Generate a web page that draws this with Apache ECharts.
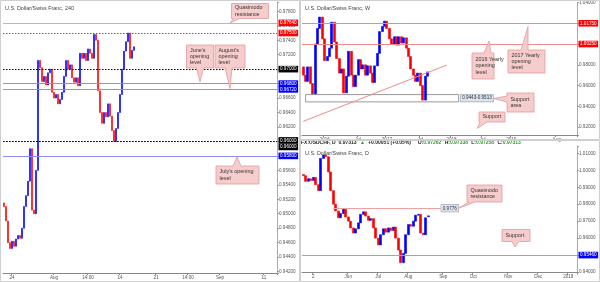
<!DOCTYPE html>
<html><head><meta charset="utf-8">
<script src="https://cdn.jsdelivr.net/npm/echarts@6/dist/echarts.min.js"></script>
<style>html,body{margin:0;padding:0;background:#fff}#c{width:600px;height:282px}</style>
</head><body><div id="c"></div>
<script>
// ---------- 4H panel (U.S. Dollar/Swiss Franc, 240) ----------
const h4Open  = [.9515,.9510,.9490,.9460,.9452,.9462,.9455,.9465,.9470,.9466,.9480,.9510,.9525,.9545,.9590,.9505,.9500,.9560,.9712,.9702,.9683,.9690,.9678,.9695,.9700,.9668,.9660,.9665,.9652,.9658,.9668,.9690,.9712,.9700,.9706,.9688,.9682,.9688,.9677,.9722,.9715,.9722,.9712,.9728,.9722,.9715,.9748,.9740,.9670,.9640,.9625,.9640,.9634,.9652,.9635,.9615,.9600,.9618,.9640,.9665,.9700,.9725,.9738,.9750,.9715,.9726];
const h4Close = [.9510,.9490,.9460,.9452,.9462,.9455,.9465,.9470,.9466,.9480,.9510,.9525,.9545,.9590,.9505,.9500,.9560,.9712,.9702,.9683,.9690,.9678,.9695,.9700,.9668,.9660,.9665,.9652,.9658,.9668,.9690,.9712,.9700,.9706,.9688,.9682,.9688,.9677,.9722,.9715,.9722,.9712,.9728,.9722,.9715,.9748,.9740,.9670,.9640,.9625,.9640,.9634,.9652,.9635,.9615,.9600,.9618,.9640,.9665,.9700,.9725,.9738,.9750,.9715,.9726,.9731];
const h4Low   = [.9505,.9485,.9452,.9437,.9440,.9445,.9448,.9455,.9458,.9460,.9472,.9505,.9520,.9540,.9498,.9490,.9495,.9555,.9671,.9670,.9660,.9665,.9670,.9685,.9660,.9648,.9650,.9634,.9635,.9650,.9660,.9685,.9690,.9685,.9675,.9670,.9672,.9670,.9674,.9705,.9708,.9705,.9708,.9712,.9705,.9710,.9720,.9665,.9619,.9618,.9615,.9620,.9625,.9625,.9605,.9582,.9595,.9610,.9632,.9660,.9690,.9718,.9730,.9703,.9708,.9722];
const h4High  = [.9522,.9515,.9495,.9468,.9470,.9475,.9478,.9490,.9482,.9488,.9515,.9530,.9550,.9600,.9595,.9515,.9565,.9720,.9722,.9708,.9700,.9695,.9705,.9712,.9705,.9675,.9678,.9670,.9665,.9675,.9698,.9718,.9716,.9712,.9710,.9695,.9698,.9692,.9764,.9735,.9732,.9728,.9738,.9735,.9730,.9770,.9755,.9745,.9675,.9652,.9660,.9662,.9671,.9660,.9640,.9622,.9625,.9648,.9672,.9708,.9732,.9748,.9758,.9755,.9732,.9734];
const h4TickLabels = ['24','Aug','14:00','14','21','14:00','Sep','11'];
const h4TickIndex  = [4,25,42,58,76,92,108,130];
const h4Slots = 137;
const h4Quasimodo = 0.9764, h4RedDotted = 0.9750, h4BlackDotted = 0.9700;
const h4JuneOpen = 0.9680, h4AugOpen = 0.9672, h4Round96 = 0.9600, h4JulyOpen = 0.9580;

// ---------- Weekly panel ----------
const wkOpen  = [.9780,.9700,.9640,.9780,.9620,.9520,1.0000,1.0150,1.0260,1.0050,.9840,.9880,.9960,1.0210,1.0020,.9860,.9720,.9760,.9530,.9690,.9930,.9700,.9590,.9700,.9850,.9760,.9800,.9700,.9790,.9720,.9630,.9790,.9910,1.0120,1.0170,1.0220,1.0150,1.0050,1.0000,1.0070,.9990,1.0070,1.0010,1.0060,.9960,.9880,.9760,.9700,.9640,.9720,.9600,.9460,.9690];
const wkClose = [.9700,.9640,.9780,.9620,.9520,1.0000,1.0150,1.0260,1.0050,.9840,.9880,.9960,1.0210,1.0020,.9860,.9720,.9760,.9530,.9690,.9930,.9700,.9590,.9700,.9850,.9760,.9800,.9700,.9790,.9720,.9630,.9790,.9910,1.0120,1.0170,1.0220,1.0150,1.0050,1.0000,1.0070,.9990,1.0070,1.0010,1.0060,.9960,.9880,.9760,.9700,.9640,.9720,.9600,.9460,.9690,.97313];
const wkLow   = [.9640,.9600,.9600,.9580,.9500,.9510,.9980,1.0130,1.0030,.9810,.9820,.9850,.9950,1.0000,.9820,.9690,.9660,.9500,.9510,.9670,.9670,.9560,.9570,.9680,.9730,.9710,.9670,.9680,.9690,.9600,.9610,.9770,.9880,1.0080,1.0140,1.0120,1.0020,.9970,.9960,.9950,.9970,.9980,.9990,.9930,.9850,.9720,.9680,.9620,.9620,.9570,.9438,.9443,.9610];
const wkHigh  = [.9810,.9720,.9800,.9800,.9660,1.0030,1.0180,1.0300,1.0280,1.0070,.9920,.9990,1.0240,1.0230,1.0040,.9880,.9790,.9780,.9720,.9960,.9950,.9720,.9740,.9880,.9870,.9830,.9820,.9810,.9820,.9740,.9820,.9950,1.0150,1.0200,1.0320,1.0260,1.0180,1.0080,1.0100,1.0110,1.0100,1.0100,1.0090,1.0080,.9990,.9900,.9790,.9740,.9750,.9740,.9620,.9770,.9770];
const wkTickLabels = ['2016','Jul','2017','Jul','2018','Jul','2019','Aug'];
const wkTickIndex  = [9,23,35,49,62,75,87,106];
const wkSlots = 115;
const wkOpen2017 = 1.0175, wkOpen2016 = 1.0025;
const wkSupportArea = [0.9443, 0.9513];
const wkSupportAreaSpan = [1, 65];
const wkTrend = [[0, 0.9255], [60, 0.9797]];

// ---------- Daily panel ----------
const dOpen  = [.9975,.9968,.9935,.9950,.9940,.9958,.9915,.9880,1.0070,1.0090,1.0080,.9990,.9880,.9800,.9760,.9720,.9745,.9770,.9725,.9700,.9660,.9630,.9655,.9690,.9740,.9755,.9730,.9705,.9715,.9660,.9600,.9560,.9620,.9655,.9635,.9660,.9645,.9665,.9600,.9530,.9455,.9510,.9620,.9680,.9670,.9700,.9735,.9740,.9630,.9620,.97262];
const dClose = [.9968,.9935,.9950,.9940,.9958,.9915,.9880,1.0070,1.0090,1.0080,.9990,.9880,.9800,.9760,.9720,.9745,.9770,.9725,.9700,.9660,.9630,.9655,.9690,.9740,.9755,.9730,.9705,.9715,.9660,.9600,.9560,.9620,.9655,.9635,.9660,.9645,.9665,.9600,.9530,.9455,.9510,.9620,.9680,.9670,.9700,.9735,.9740,.9630,.9620,.9720,.97313];
const dLow   = [.9955,.9920,.9925,.9930,.9932,.9905,.9870,.9875,1.0055,1.0065,.9980,.9870,.9790,.9740,.9705,.9710,.9730,.9715,.9690,.9650,.9620,.9620,.9645,.9680,.9725,.9720,.9690,.9695,.9650,.9590,.9552,.9555,.9610,.9615,.9625,.9635,.9640,.9590,.9520,.9440,.9445,.9505,.9610,.9655,.9660,.9690,.9720,.9615,.9590,.9612,.97258];
const dHigh  = [.9990,.9978,.9960,.9965,.9968,.9962,.9925,1.0080,1.0102,1.0100,1.0090,1.0000,.9890,.9810,.9775,.9760,.9785,.9778,.9735,.9710,.9670,.9665,.9700,.9750,.9775,.9770,.9740,.9725,.9720,.9670,.9612,.9630,.9665,.9680,.9690,.9675,.9690,.9672,.9605,.9535,.9520,.9630,.9690,.9700,.9715,.9745,.9775,.9750,.9640,.9730,.97338];
const dTickLabels = ['2','Jun','Jul','Aug','Sep','Oct','Nov','Dec','2018'];
const dTickIndex  = [4,18,30,42,56,68,82,94,106];
const dSlots = 110;
const dQuasimodo = 0.9776, dQuasimodoSpan = [12, 55];
const dSupport = 0.9546;
const lastPrice = 0.97313;

// ---------- helpers ----------
const FONT = 'Liberation Sans';
const BLUE = '#0000ff', RED = '#ff0000', WICK = '#c4c4c4';

function cats(n){ const a=[]; for(let i=0;i<n;i++) a.push('c'+i); return a; }
function tickMap(idx, labels){ const m={}; idx.forEach((k,i)=>m[k]=labels[i]); return m; }

function xAxisFor(grid, n, idx, labels){
  const m = tickMap(idx, labels);
  return {
    gridIndex: grid, type:'category', data: cats(n), boundaryGap:true,
    axisLine:{show:true, lineStyle:{color:'#888', width:1}},
    axisTick:{show:true, length:2, interval:(i)=>m[i]!==undefined, lineStyle:{color:'#888'}},
    axisLabel:{interval:(i)=>m[i]!==undefined, formatter:(v,i)=>m[i]||'', fontSize:4.6, color:'#555', margin:2, fontFamily:FONT},
    splitLine:{show:false}
  };
}
function yAxisFor(grid, min, max, step){
  return {
    gridIndex: grid, type:'value', position:'right', min, max,
    minInterval: step, maxInterval: step, splitNumber: Math.round((max-min)/step),
    axisLine:{show:true, lineStyle:{color:'#aaa'}},
    axisTick:{show:true, length:2, lineStyle:{color:'#999'}},
    splitLine:{show:false},
    axisLabel:{fontSize:4.6, color:'#555', margin:2, fontFamily:FONT,
      formatter: v => Math.abs(v/step - Math.round(v/step)) < 1e-6 ? v.toFixed(5) : ''}
  };
}
function box(text, bg, fg, extra){
  return Object.assign({show:true, position:'end', formatter:text, color:fg||'#fff', backgroundColor:bg,
    fontSize:4.6, fontFamily:FONT, padding:[1,1.5,0.6,1.5], distance:1.5}, extra||{});
}
function wickSeries(grid, o, c, l, h, w){
  return {type:'candlestick', xAxisIndex:grid, yAxisIndex:grid, barWidth:w, z:2, silent:true,
    data: o.map((_,i)=>[l[i],h[i],l[i],h[i]]),
    itemStyle:{color:WICK, color0:WICK, borderColor:WICK, borderColor0:WICK, borderColorDoji:WICK, borderWidth:0}};
}
function bodySeries(grid, o, c, w, extra){
  return Object.assign({type:'candlestick', xAxisIndex:grid, yAxisIndex:grid, barWidth:w, z:3, silent:true,
    data: o.map((_,i)=>[o[i],c[i],Math.min(o[i],c[i]),Math.max(o[i],c[i])]),
    itemStyle:{color:BLUE, color0:RED, borderColor:BLUE, borderColor0:RED, borderColorDoji:BLUE, borderWidth:0.6}}, extra||{});
}
const fmt = v => v.toFixed(5);
const hidden = {opacity:0};

function calloutPts(b, edge, a1, a2, tip){
  const {x,y,w,h}=b; const p=[[x,y]];
  if(edge==='top') p.push([x+a1,y],tip,[x+a2,y]);
  p.push([x+w,y]);
  if(edge==='right') p.push([x+w,y+a1],tip,[x+w,y+a2]);
  p.push([x+w,y+h]);
  if(edge==='bottom') p.push([x+a2,y+h],tip,[x+a1,y+h]);
  p.push([x,y+h]);
  if(edge==='left') p.push([x,y+a2],tip,[x,y+a1]);
  return p;
}
function callout(text, b, edge, a1, a2, tip){
  return {type:'group', children:[
    {type:'polygon', shape:{points:calloutPts(b,edge,a1,a2,tip)}, style:{fill:'#f7cccc', stroke:'#e39a9a', lineWidth:0.8}, z:50},
    {type:'text', style:{text, x:b.x+3.5, y:b.y+b.h/2, fill:'#333', fontSize:5.4, fontFamily:FONT, lineHeight:6.2, align:'left', verticalAlign:'middle'}, z:51}
  ]};
}

// ---------- option ----------
const option = {
  animation:false,
  backgroundColor:'#fff',
  grid:[
    {left:3, top:2, width:274, height:271},
    {left:302, top:1, width:275, height:134},
    {left:302, top:146, width:275, height:126.7}
  ],
  xAxis:[
    xAxisFor(0, h4Slots, h4TickIndex, h4TickLabels),
    xAxisFor(1, wkSlots, wkTickIndex, wkTickLabels),
    xAxisFor(2, dSlots, dTickIndex, dTickLabels)
  ],
  yAxis:[
    yAxisFor(0, 0.94180, 0.97929, 0.002),
    yAxisFor(1, 0.91238, 1.04000, 0.02),
    yAxisFor(2, 0.93961, 1.01432, 0.01)
  ],
  series:[
    wickSeries(0, h4Open, h4Close, h4Low, h4High, 1),
    bodySeries(0, h4Open, h4Close, 2.2, {
      markLine:{symbol:['none','none'], silent:true, animation:false, precision:5, data:[
        {yAxis:h4Quasimodo, lineStyle:{color:'#f3a0a0', width:1, type:'solid'}, label:box(fmt(h4Quasimodo), RED)},
        {yAxis:h4RedDotted, lineStyle:{color:'#ff2a2a', width:1, type:[1.5,1.5]}, label:box(fmt(h4RedDotted), RED)},
        {yAxis:lastPrice, lineStyle:hidden, label:box(fmt(lastPrice), BLUE)},
        {yAxis:h4BlackDotted, lineStyle:{color:'#000', width:1.2, type:[1.5,1.5]}, label:box(fmt(h4BlackDotted), '#000')},
        {yAxis:h4JuneOpen, lineStyle:{color:'#8c8cff', width:1, type:'solid'}, label:box(fmt(h4JuneOpen), BLUE)},
        {yAxis:h4AugOpen, lineStyle:{color:'#8c8cff', width:1, type:'solid'}, label:box(fmt(h4AugOpen), BLUE)},
        {yAxis:h4Round96, lineStyle:{color:'#000', width:1.2, type:[1.5,1.5]}, label:box(fmt(h4Round96), '#000', '#fff', {offset:[0,-1]})},
        {yAxis:h4Round96, lineStyle:{color:'#000', width:1, type:[1.5,1.5]}, label:box(fmt(h4Round96), '#000', '#fff', {offset:[0,5.5]})},
        {yAxis:h4JulyOpen, lineStyle:{color:'#8c8cff', width:1, type:'solid'}, label:box(fmt(h4JulyOpen), BLUE)}
      ]}
    }),
    wickSeries(1, wkOpen, wkClose, wkLow, wkHigh, 1),
    bodySeries(1, wkOpen, wkClose, 2.5, {
      markLine:{symbol:['none','none'], silent:true, animation:false, data:[
        {yAxis:wkOpen2017, lineStyle:{color:'#f08a8a', width:1, type:'solid'}, label:box(fmt(wkOpen2017), RED)},
        {yAxis:wkOpen2016, lineStyle:{color:'#f08a8a', width:1, type:'solid'}, label:box(fmt(wkOpen2016), RED)},
        {yAxis:lastPrice, lineStyle:hidden, label:box(fmt(lastPrice), BLUE)},
        [{coord:wkTrend[0]}, {coord:wkTrend[1], lineStyle:{color:'#f08a8a', width:1, type:'solid'}, label:{show:false}}]
      ]},
      markArea:{silent:true, data:[[
        {coord:[wkSupportAreaSpan[0], wkSupportArea[1]], itemStyle:{color:'rgba(255,255,255,0)', borderColor:'#9a9a9a', borderWidth:1},
         label:{show:true, position:'right', distance:1.5, formatter: wkSupportArea[0].toFixed(4)+'-'+wkSupportArea[1].toFixed(4),
           fontSize:4.6, fontFamily:FONT, color:'#334', backgroundColor:'#dde4ec', borderColor:'#9aa8b8', borderWidth:0.6, padding:[1,1.5,0.6,1.5]}},
        {coord:[wkSupportAreaSpan[1], wkSupportArea[0]]}
      ]]}
    }),
    wickSeries(2, dOpen, dClose, dLow, dHigh, 1),
    bodySeries(2, dOpen, dClose, 2.6, {
      markLine:{symbol:['none','none'], silent:true, animation:false, data:[
        [{coord:[dQuasimodoSpan[0], dQuasimodo]}, {coord:[dQuasimodoSpan[1], dQuasimodo], lineStyle:{color:'#f3a0a0', width:1, type:'solid'},
          label:box(dQuasimodo.toFixed(4), '#dde4ec', '#334', {borderColor:'#9aa8b8', borderWidth:0.6, distance:0.5})}],
        {yAxis:lastPrice, lineStyle:hidden, label:box(fmt(lastPrice), BLUE)},
        {yAxis:dSupport, lineStyle:{color:'#9a9aff', width:1.2, type:'solid'}, label:box(fmt(dSupport), BLUE)}
      ]}
    })
  ],
  graphic:[
    {type:'rect', shape:{x:0.5,y:0.5,width:299,height:281}, style:{fill:'none', stroke:'#cfcfcf', lineWidth:1}, z:60},
    {type:'rect', shape:{x:300.5,y:0.5,width:299,height:139}, style:{fill:'none', stroke:'#cfcfcf', lineWidth:1}, z:60},
    {type:'rect', shape:{x:300.5,y:140.5,width:299,height:141}, style:{fill:'none', stroke:'#cfcfcf', lineWidth:1}, z:60},
    {type:'text', style:{text:'U.S. Dollar/Swiss Franc, 240', x:5, y:9, fill:'#444', fontSize:5.4, fontFamily:FONT, verticalAlign:'middle'}, z:55},
    {type:'text', style:{text:'U.S. Dollar/Swiss Franc, W', x:305, y:9, fill:'#444', fontSize:5.4, fontFamily:FONT, verticalAlign:'middle'}, z:55},
    {type:'text', style:{text:'U.S. Dollar/Swiss Franc, D', x:305, y:154, fill:'#444', fontSize:5.4, fontFamily:FONT, verticalAlign:'middle'}, z:55},
    {type:'text', style:{x:301, y:142.5, verticalAlign:'middle', fontFamily:FONT,
      text:'{k|FX:USDCHF, D  0.97313} {g|▲} {k|+0.00051 (+0.05%)}  {k|O:}{g|0.97262} {k|H:}{g|0.97338} {k|L:}{g|0.97258} {k|C:}{g|0.97313}',
      rich:{k:{fill:'#222', fontSize:5, fontWeight:'bold', fontFamily:FONT}, g:{fill:'#2aa02a', fontSize:5, fontWeight:'bold', fontFamily:FONT}}}, z:55},
    callout('Quasimodo\nresistance', {x:231.5,y:3.5,w:37,h:15}, 'bottom', 2, 8, [230,23]),
    callout("June's\nopening\nlevel", {x:186.5,y:45,w:27,h:23}, 'bottom', 10, 17, [200,82]),
    callout("August's\nopening\nlevel", {x:215,y:45,w:30,h:23}, 'bottom', 10, 17, [230,88.5]),
    callout("July's opening\nlevel", {x:216,y:166,w:43,h:18}, 'top', 17, 25, [237,157]),
    callout('2016 Yearly\nopening\nlevel', {x:472,y:53,w:22,h:26}, 'top', 12, 19, [489,41]),
    callout('2017 Yearly\nopening\nlevel', {x:508,y:50,w:37,h:23}, 'top', 13, 20, [528,26.5]),
    callout('Support\narea', {x:507,y:93,w:27,h:19}, 'left', 3, 9, [493.5,98.5]),
    callout('Support', {x:479,y:112,w:26,h:10}, 'bottom', 1, 8, [477,128.5]),
    callout('Quasimodo\nresistance', {x:467,y:185,w:35,h:17}, 'bottom', 2, 8, [458,208.5]),
    callout('Support', {x:502,y:229.5,w:28,h:12}, 'bottom', 10, 17, [515,247])
  ]
};
const chart = echarts.init(document.getElementById('c'), null, {renderer:'canvas'});
chart.setOption(option);
</script></body></html>
